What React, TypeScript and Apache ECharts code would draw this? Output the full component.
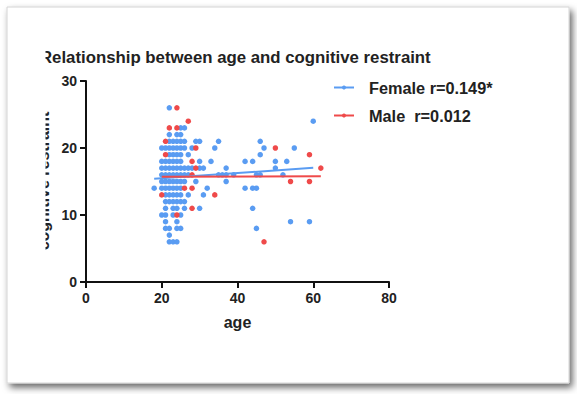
import { useEffect, useRef } from "react";
import * as echarts from "echarts";

const titleText = "Relationship between age and cognitive restraint";
const xName = "age";
const yName = "cognitive restraint";
const femaleName = "Female r=0.149*";
const maleName = "Male  r=0.012";

const xMin = 0, xMax = 80, xStep = 20;
const yMin = 0, yMax = 30, yStep = 10;

// Female points grouped by cognitive restraint score: [score, ages]
const femaleRows: [number, number[]][] = [
  [26, [22]],
  [24, [60]],
  [23, [25, 26]],
  [22, [22, 24, 25]],
  [21, [22, 23, 24, 25, 26, 29, 30, 35, 46]],
  [20, [20, 21, 22, 23, 24, 25, 26, 28, 34, 47, 55]],
  [19, [22, 23, 24, 25, 27, 46]],
  [18, [20, 21, 22, 23, 24, 25, 30, 33, 42, 44, 50, 53]],
  [17, [20, 21, 22, 23, 24, 25, 26, 27, 28, 30, 31, 37, 50]],
  [16, [20, 21, 22, 23, 24, 25, 26, 27, 35, 36, 37, 39, 45, 46, 52]],
  [15, [20, 21, 22, 23, 24, 25, 26, 29, 37]],
  [14, [18, 20, 21, 22, 23, 24, 25, 32, 42, 44, 45]],
  [13, [21, 22, 23, 24, 25, 27, 31]],
  [12, [21, 22, 23, 24, 25, 26]],
  [11, [21, 23, 24, 26, 30, 44]],
  [10, [20, 21, 23, 25]],
  [9, [21, 24, 54, 59]],
  [8, [21, 22, 24, 25, 45]],
  [7, [22]],
  [6, [22, 23, 24]],
];

// Male points: [age, score]
const malePoints: [number, number][] = [
  [24, 26], [27, 24], [22, 23], [24, 23], [21, 21], [29, 20], [50, 20],
  [21, 19], [59, 19], [28, 18], [29, 17], [62, 17], [28, 16], [54, 15],
  [59, 15], [26, 14], [28, 14], [20, 13], [34, 13], [28, 11], [24, 10], [47, 6],
];

// Regression line endpoints: [age, score]
const femaleFit: [number, number][] = [[18, 15.4], [60, 17.05]];
const maleFit: [number, number][] = [[20, 15.7], [62, 15.8]];

const BLUE = "#5a9cf2";
const RED = "#ef4a4a";
const INK = "#222";
const FF = '"Liberation Sans", Arial, sans-serif';

export default function App() {
  const ref = useRef<HTMLDivElement>(null);
  useEffect(() => {
    if (!ref.current) return;
    const chart = echarts.init(ref.current, undefined, { renderer: "svg" });
    const femalePoints: [number, number][] = [];
    femaleRows.forEach(([score, ages]) => ages.forEach((a) => femalePoints.push([a, score])));

    const axisCommon = {
      type: "value" as const,
      splitLine: { show: false },
      axisLine: { show: true, onZero: false, lineStyle: { color: "#111", width: 2 } },
      axisTick: { show: true, length: 6, lineStyle: { color: "#111", width: 2 } },
      axisLabel: { fontFamily: FF, fontSize: 14, fontWeight: "bold" as const, color: INK, margin: 9 },
    };

    chart.setOption({
      animation: false,
      title: {
        text: titleText,
        left: 40,
        top: 49,
        padding: 0,
        textStyle: { fontFamily: FF, fontSize: 16.8, fontWeight: "bold", color: INK },
      },
      legend: {
        orient: "vertical",
        left: 333,
        top: 79.5,
        padding: 0,
        itemWidth: 20,
        itemHeight: 5,
        itemGap: 12,
        data: [femaleName, maleName],
        textStyle: {
          fontFamily: FF,
          fontSize: 16.3,
          fontWeight: "bold",
          color: INK,
          lineHeight: 16,
          padding: [0, 0, 0, 10],
        },
      },
      grid: { left: 86, right: 188, top: 81, bottom: 112, containLabel: false },
      xAxis: {
        ...axisCommon,
        min: xMin,
        max: xMax,
        interval: xStep,
        name: xName,
        nameLocation: "middle",
        nameGap: 32,
        nameTextStyle: { fontFamily: FF, fontSize: 16, fontWeight: "bold", color: INK },
      },
      yAxis: {
        ...axisCommon,
        min: yMin,
        max: yMax,
        interval: yStep,
      },
      graphic: [
        {
          type: "rect",
          z: -10,
          silent: true,
          shape: { x: 7, y: 7, width: 562, height: 376 },
          style: {
            fill: "#fff",
            stroke: "#d4d4d4",
            lineWidth: 1,
            shadowBlur: 7,
            shadowOffsetX: 3,
            shadowOffsetY: 4,
            shadowColor: "rgba(0,0,0,0.6)",
          },
        },
        {
          type: "text",
          z: 50,
          x: 43,
          y: 181,
          rotation: Math.PI / 2,
          style: {
            text: yName,
            fontFamily: FF,
            fontSize: 16,
            fontWeight: "bold",
            fill: INK,
            align: "center",
            verticalAlign: "middle",
          },
        },
        {
          type: "rect",
          z: 100,
          silent: true,
          shape: { x: 10, y: 40, width: 35.5, height: 230 },
          style: { fill: "#fff" },
        },
      ],
      series: [
        {
          name: "Female points",
          type: "scatter",
          data: femalePoints,
          symbolSize: 5.5,
          itemStyle: { color: BLUE, opacity: 1 },
        },
        {
          name: "Male points",
          type: "scatter",
          data: malePoints,
          symbolSize: 5.5,
          itemStyle: { color: RED, opacity: 1 },
        },
        {
          name: femaleName,
          type: "line",
          data: femaleFit,
          showSymbol: false,
          symbol: "circle",
          lineStyle: { color: BLUE, width: 2 },
          itemStyle: { color: BLUE },
        },
        {
          name: maleName,
          type: "line",
          data: maleFit,
          showSymbol: false,
          symbol: "circle",
          lineStyle: { color: RED, width: 2 },
          itemStyle: { color: RED },
        },
      ],
    });
    return () => chart.dispose();
  }, []);
  return (
    <div
      ref={ref}
      style={{ position: "absolute", left: 0, top: 0, width: 577, height: 394 }}
    />
  );
}
